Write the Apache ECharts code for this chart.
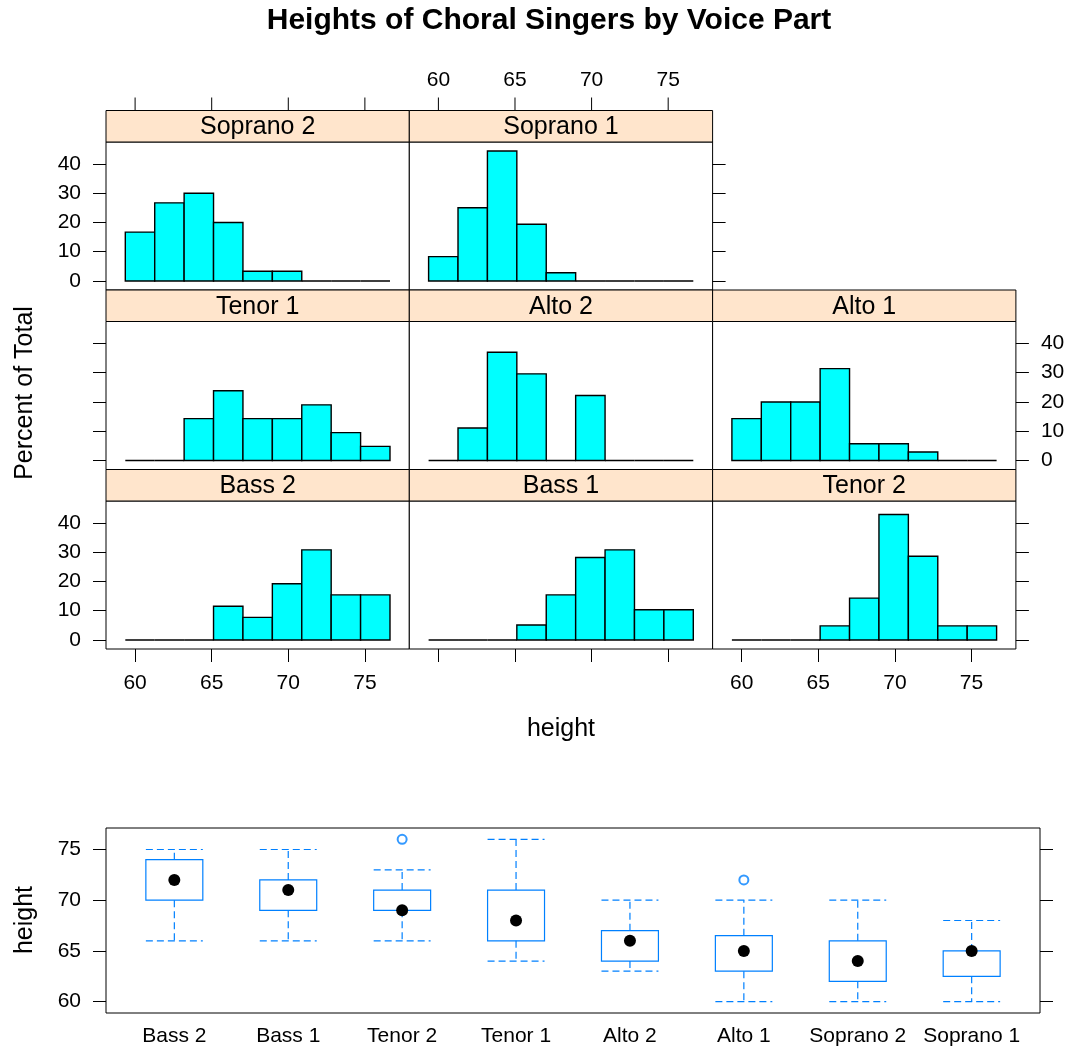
<!DOCTYPE html>
<html>
<head>
<meta charset="utf-8">
<title>Heights of Choral Singers by Voice Part</title>
<script src="https://cdn.jsdelivr.net/npm/echarts@6/dist/echarts.min.js"></script>
<style>
  html, body { margin: 0; padding: 0; background: #fff; }
  #main { width: 1069px; height: 1051px; }
</style>
</head>
<body>
<div id="main"></div>
<script>
// histogram bin edges, shared by every panel
var binBreaks = [59.36, 61.28, 63.2, 65.12, 67.04, 68.96, 70.88, 72.8, 74.72, 76.64];
var heightTicks = [60, 65, 70, 75];
var percentTicks = [0, 10, 20, 30, 40];

// panels in drawing order (top row first)
var voiceParts = ['Soprano 2', 'Soprano 1', 'Tenor 1', 'Alto 2', 'Alto 1', 'Bass 2', 'Bass 1', 'Tenor 2'];
var pctSoprano2 = [16.7, 26.7, 30.0, 20.0, 3.3, 3.3, 0, 0, 0];
var pctSoprano1 = [8.3, 25.0, 44.4, 19.4, 2.8, 0, 0, 0, 0];
var pctTenor1 = [0, 0, 14.3, 23.8, 14.3, 14.3, 19.0, 9.5, 4.8];
var pctAlto2 = [0, 11.1, 37.0, 29.6, 0, 22.2, 0, 0, 0];
var pctAlto1 = [14.3, 20.0, 20.0, 31.4, 5.7, 5.7, 2.9, 0, 0];
var pctBass2 = [0, 0, 0, 11.5, 7.7, 19.2, 30.8, 15.4, 15.4];
var pctBass1 = [0, 0, 0, 5.1, 15.4, 28.2, 30.8, 10.3, 10.3];
var pctTenor2 = [0, 0, 0, 4.8, 14.3, 42.9, 28.6, 4.8, 4.8];
var panelPct = [pctSoprano2, pctSoprano1, pctTenor1, pctAlto2, pctAlto1, pctBass2, pctBass1, pctTenor2];

// boxplot (bottom chart)
var boxParts = ['Bass 2', 'Bass 1', 'Tenor 2', 'Tenor 1', 'Alto 2', 'Alto 1', 'Soprano 2', 'Soprano 1'];
var boxLow = [66, 66, 66, 64, 63, 60, 60, 60];
var boxQ1 = [70, 69, 69, 66, 64, 63, 62, 62.5];
var boxMedian = [72, 71, 69, 68, 66, 65, 64, 65];
var boxQ3 = [74, 72, 71, 71, 67, 66.5, 66, 65];
var boxHigh = [75, 75, 73, 76, 70, 70, 70, 68];
var outlierParts = ['Tenor 2', 'Alto 1'];
var outlierValues = [76, 72];

var FONT = 'Liberation Sans, Arial, sans-serif';
var boxBlue = '#0080FF';

// lattice layout: 3 columns x 3 rows, strip above each panel
var colLeft0 = 106, colW = 303.3;
var rowTop0 = 110.5, rowStep = 179.5, stripH = 31.5, panelH = 148;
var panelRow = [0, 0, 1, 1, 1, 2, 2, 2];
var panelCol = [0, 1, 0, 1, 2, 0, 1, 2];
var lastCol = [1, 2, 2];

var grids = [], xAxes = [], yAxes = [], series = [], graphics = [];
var topRowX = []; // main x axis index of each top-row panel

function valueAxis(isX, gridIndex, position, ticks, labels, margin) {
  var tv = isX ? heightTicks : percentTicks;
  return {
    type: 'value',
    gridIndex: gridIndex,
    position: position,
    min: isX ? 58.1 : -3.1,
    max: isX ? 77.9 : 47.5,
    axisLine: { show: false, onZero: false },
    splitLine: { show: false },
    axisTick: { show: ticks, inside: false, length: 13, customValues: tv, lineStyle: { color: '#000', width: 1 } },
    axisLabel: { show: labels, customValues: tv, margin: margin, color: '#000', fontSize: 21, fontFamily: FONT }
  };
}

function barItem(params, api) {
  var p0 = api.coord([api.value(0), 0]);
  var p1 = api.coord([api.value(1), api.value(2)]);
  return {
    type: 'rect',
    shape: { x: p0[0], y: p1[1], width: p1[0] - p0[0], height: p0[1] - p1[1] },
    style: { fill: '#00FFFF', stroke: '#000', lineWidth: 1.4 }
  };
}

for (var p = 0; p < voiceParts.length; p++) {
  var r = panelRow[p], c = panelCol[p];
  var left = colLeft0 + c * colW;
  var stripTop = rowTop0 + r * rowStep;
  var g = grids.length;
  grids.push({
    left: left, top: stripTop + stripH, width: colW, height: panelH,
    show: true, borderColor: '#000', borderWidth: 1, backgroundColor: '#fff',
    containLabel: false, outerBoundsMode: 'none'
  });

  var xIdx = xAxes.length;
  xAxes.push(valueAxis(true, g, 'bottom', r == 2, r == 2 && c != 1, 24));
  var yIdx = yAxes.length;
  yAxes.push(valueAxis(false, g, 'left', c == 0, c == 0 && r != 1, 25));
  if (c == lastCol[r]) yAxes.push(valueAxis(false, g, 'right', true, r == 1, 25));
  if (r == 0) topRowX.push(xIdx);

  var data = [];
  for (var j = 0; j < panelPct[p].length; j++) {
    data.push([binBreaks[j], binBreaks[j + 1], panelPct[p][j]]);
  }
  series.push({
    type: 'custom', name: voiceParts[p],
    xAxisIndex: xIdx, yAxisIndex: yIdx,
    encode: { x: [0, 1], y: 2 },
    renderItem: barItem,
    data: data
  });

  // top row, middle column: tick labels above the strip (empty grid over the strip)
  if (r == 0 && c == 1) {
    var tg = grids.length;
    grids.push({ left: left, top: stripTop, width: colW, height: stripH, show: false, containLabel: false, outerBoundsMode: 'none' });
    xAxes.push(valueAxis(true, tg, 'top', false, true, 20));
    yAxes.push({ type: 'value', gridIndex: tg, min: 0, max: 1, show: false });
  }

  // strip with the panel name
  graphics.push({
    type: 'rect', z: 10,
    shape: { x: left, y: stripTop, width: colW, height: stripH },
    style: { fill: '#FFE5CC', stroke: '#000', lineWidth: 1 }
  });
  graphics.push({
    type: 'text', z: 11,
    style: { text: voiceParts[p], x: left + colW / 2, y: stripTop + stripH / 2 + 1,
             align: 'center', verticalAlign: 'middle', font: '25px ' + FONT, fill: '#000' }
  });
}

// boxplot panel
var boxGrid = grids.length;
grids.push({
  left: 106, top: 828, width: 934, height: 185,
  show: true, borderColor: '#000', borderWidth: 1, backgroundColor: '#fff',
  containLabel: false, outerBoundsMode: 'none'
});
var boxX = xAxes.length;
xAxes.push({
  type: 'value', gridIndex: boxGrid, position: 'bottom', min: 0.4, max: 8.6,
  axisLine: { show: false, onZero: false }, splitLine: { show: false }, axisTick: { show: false },
  axisLabel: {
    customValues: boxParts.map(function (d, i) { return i + 1; }),
    formatter: function (v) { return boxParts[Math.round(v) - 1]; },
    margin: 13, color: '#000', fontSize: 21, fontFamily: FONT
  }
});
var boxY = yAxes.length;
[['left', true], ['right', false]].forEach(function (s) {
  yAxes.push({
    type: 'value', gridIndex: boxGrid, position: s[0], min: 58.88, max: 77.12,
    axisLine: { show: false, onZero: false }, splitLine: { show: false },
    axisTick: { show: true, inside: false, length: 13, customValues: heightTicks, lineStyle: { color: '#000', width: 1 } },
    axisLabel: { show: s[1], customValues: heightTicks, margin: 25, color: '#000', fontSize: 21, fontFamily: FONT }
  });
});

function boxItem(params, api) {
  var x = api.value(0);
  var half = api.size([0.5, 0])[0] / 2;
  var pLow = api.coord([x, api.value(1)]);
  var pQ1 = api.coord([x, api.value(2)]);
  var pMed = api.coord([x, api.value(3)]);
  var pQ3 = api.coord([x, api.value(4)]);
  var pHigh = api.coord([x, api.value(5)]);
  var cx = pMed[0];
  var dashed = { stroke: boxBlue, lineWidth: 1.2, lineDash: [7, 4], fill: null };
  return {
    type: 'group',
    children: [
      { type: 'line', shape: { x1: cx, y1: pQ3[1], x2: cx, y2: pHigh[1] }, style: dashed },
      { type: 'line', shape: { x1: cx, y1: pQ1[1], x2: cx, y2: pLow[1] }, style: dashed },
      { type: 'line', shape: { x1: cx - half, y1: pHigh[1], x2: cx + half, y2: pHigh[1] }, style: dashed },
      { type: 'line', shape: { x1: cx - half, y1: pLow[1], x2: cx + half, y2: pLow[1] }, style: dashed },
      { type: 'rect', shape: { x: cx - half, y: pQ3[1], width: 2 * half, height: pQ1[1] - pQ3[1] },
        style: { stroke: boxBlue, fill: 'none', lineWidth: 1.2 } },
      { type: 'circle', shape: { cx: cx, cy: pMed[1], r: 6 }, style: { fill: '#000' } }
    ]
  };
}

series.push({
  type: 'custom', name: 'height',
  xAxisIndex: boxX, yAxisIndex: boxY,
  encode: { x: 0, y: [1, 2, 3, 4, 5] },
  renderItem: boxItem,
  data: boxParts.map(function (d, i) {
    return [i + 1, boxLow[i], boxQ1[i], boxMedian[i], boxQ3[i], boxHigh[i]];
  })
});
series.push({
  type: 'scatter', name: 'outliers',
  xAxisIndex: boxX, yAxisIndex: boxY,
  symbol: 'emptyCircle', symbolSize: 9,
  itemStyle: { color: boxBlue, borderColor: boxBlue, borderWidth: 1 },
  data: outlierParts.map(function (d, i) { return [boxParts.indexOf(d) + 1, outlierValues[i]]; })
});

// titles
graphics.push({
  type: 'text',
  style: { text: 'Heights of Choral Singers by Voice Part', x: 549, y: 21, align: 'center',
           verticalAlign: 'middle', font: 'bold 30px ' + FONT, fill: '#000' }
});
graphics.push({
  type: 'text', rotation: Math.PI / 2, x: 25, y: 393,
  style: { text: 'Percent of Total', x: 0, y: 0, align: 'center', verticalAlign: 'middle', font: '25px ' + FONT, fill: '#000' }
});
graphics.push({
  type: 'text',
  style: { text: 'height', x: 561, y: 729, align: 'center', verticalAlign: 'middle', font: '25px ' + FONT, fill: '#000' }
});
graphics.push({
  type: 'text', rotation: Math.PI / 2, x: 25, y: 920,
  style: { text: 'height', x: 0, y: 0, align: 'center', verticalAlign: 'middle', font: '25px ' + FONT, fill: '#000' }
});

var myChart = echarts.init(document.getElementById('main'), null, { renderer: 'canvas' });
myChart.setOption({
  animation: false,
  backgroundColor: '#fff',
  grid: grids,
  xAxis: xAxes,
  yAxis: yAxes,
  series: series,
  graphic: graphics
});

// top-row tick marks above the strips, placed through each panel's x scale
var topTicks = [];
topRowX.forEach(function (xi) {
  heightTicks.forEach(function (v) {
    var px = myChart.convertToPixel({ xAxisIndex: xi }, v);
    topTicks.push({
      type: 'line', z: 100,
      shape: { x1: px, y1: rowTop0, x2: px, y2: rowTop0 - 13 },
      style: { stroke: '#000', lineWidth: 1 }
    });
  });
});
myChart.setOption({ graphic: graphics.concat(topTicks) });
</script>
</body>
</html>
